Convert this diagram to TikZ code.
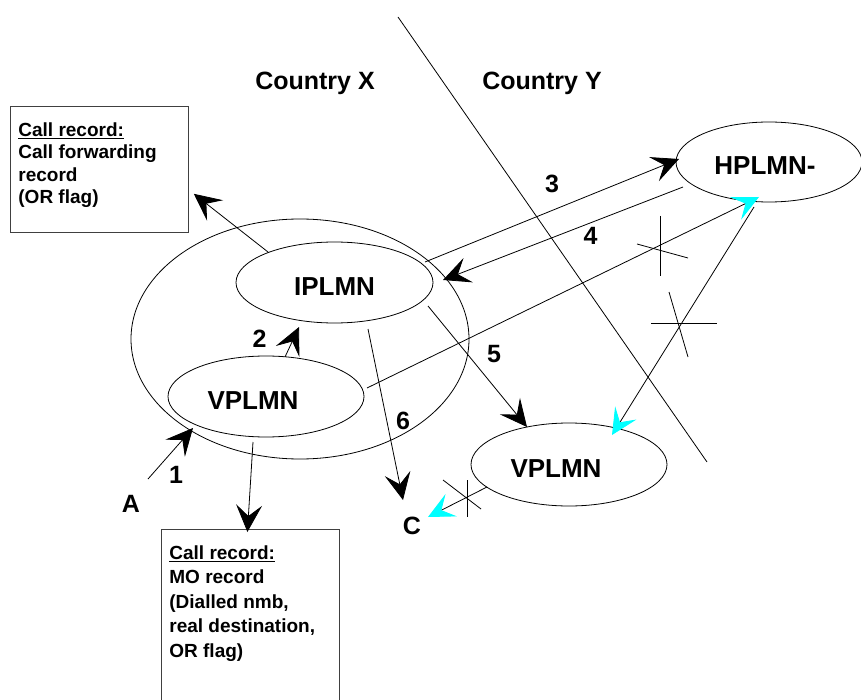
\documentclass[tikz,border=0pt]{standalone}
\usepackage{fontspec}
\setmainfont{Liberation Sans}
\usepackage{tikz}
\usetikzlibrary{shapes,arrows.meta,positioning,calc}
\definecolor{headcyan}{RGB}{0,255,255}
\tikzstyle{net} = [ellipse, draw=black, line width=0.8pt, inner sep=0pt, text height=26pt, text depth=0pt, font=\fontsize{26}{30}\selectfont\bfseries]
\tikzstyle{record} = [rectangle, draw=black!75, line width=0.8pt, anchor=north west, inner xsep=8pt, inner ysep=16pt, font=\fontsize{19}{22.5}\selectfont\bfseries]
\tikzstyle{tag} = [inner sep=0pt, font=\fontsize{25}{30}\selectfont\bfseries]
\tikzstyle{arrow} = [line width=0.8pt, -{Stealth[length=27pt, width=26pt, inset=11pt]}]
\tikzstyle{lost} = [line width=0.8pt, -{Stealth[length=26pt, width=25pt, inset=11pt, color=headcyan]}]
\tikzstyle{cut} = [line width=0.8pt]

\begin{document}
\begin{tikzpicture}[x=1pt, y=-1pt]
\useasboundingbox (0,0) rectangle (861,700);

% Pays et frontiere
\node (cx) [tag] at (315,83) {Country X};
\node (cy) [tag] at (542,83) {Country Y};
\draw [cut] (398,17) -- (707,462);

% Reseaux
\node (areax) [net, minimum width=338pt, minimum height=240pt] at (300,339) {};
\node (iplmn) [net, minimum width=197pt, minimum height=81pt] at (334.5,282.5) {IPLMN};
\node (vplmnx) [net, minimum width=196pt, minimum height=81pt] at (266,396.5) {VPLMN\hspace*{26pt}};
\node (hplmn) [net, minimum width=186pt, minimum height=80pt] at (769,162) {HPLMN-\hspace*{8pt}};
\node (vplmny) [net, minimum width=196pt, minimum height=83pt] at (569,464.5) {VPLMN\hspace*{26pt}};

% Abonnes
\node (a) [tag] at (131,504) {A};
\node (c) [tag] at (412,526) {C};

% Tickets
\node (cfrec) [record] at (10,106) {\parbox[t][94pt][t]{162pt}{%
    \underline{Call record:}\\
    Call forwarding\\
    record\\
    (OR flag)}};
\node (morec) [record, font=\fontsize{19}{24.5}\selectfont\bfseries] at (161,529) {\parbox[t][170pt][t]{162pt}{%
    \underline{Call record:}\\
    MO record\\
    (Dialled nmb,\\
    real destination,\\
    OR flag)}};

% Appel
\draw [arrow] ($(a)+(17,-25)$) -- ($(vplmnx)+(-73,31.5)$);
\draw [arrow] ($(vplmnx)+(19,-39.5)$) -- ($(iplmn)+(-35.5,44.5)$);
\draw [arrow] ($(iplmn)+(90.5,-20.5)$) -- ($(hplmn)+(-90,-3)$);
\draw [arrow] ($(hplmn)+(-86,25)$) -- ($(iplmn)+(108.5,-2.5)$);
\draw [arrow] ($(iplmn)+(93.5,23.5)$) -- ($(vplmny)+(-42,-37.5)$);
\draw [arrow] ($(iplmn)+(33.5,46.5)$) -- ($(c)+(-9,-26)$);
\draw [arrow] ($(iplmn)+(-66.5,-30.5)$) -- ($(cfrec.south east)+(5,-39)$);
\draw [arrow] ($(vplmnx)+(-13,45.5)$) -- ($(morec.north)+(-3,3)$);

% Chemins non suivis
\draw [lost] ($(vplmnx)+(101,-8.5)$) -- ($(hplmn)+(-10,35)$);
\draw [lost] ($(hplmn)+(-15,45)$) -- ($(vplmny)+(43,-29.5)$);
\draw [lost] ($(vplmny)+(-82,22.5)$) -- ($(c)+(16,-9)$);
\draw [cut] (660,216) -- (660,276);
\draw [cut] (637,244) -- (688,258);
\draw [cut] (651,323) -- (717,323);
\draw [cut] (669,292) -- (688,357);
\draw [cut] (467,480) -- (467,517);
\draw [cut] (443,480) -- (481,509);

% Numeros
\node (n1) [tag] at (176,474.5) {1};
\node (n2) [tag] at (259.5,338.5) {2};
\node (n3) [tag] at (552,183.5) {3};
\node (n4) [tag] at (590.5,236) {4};
\node (n5) [tag] at (494,354.5) {5};
\node (n6) [tag] at (403,420.5) {6};

\end{tikzpicture}
\end{document}
